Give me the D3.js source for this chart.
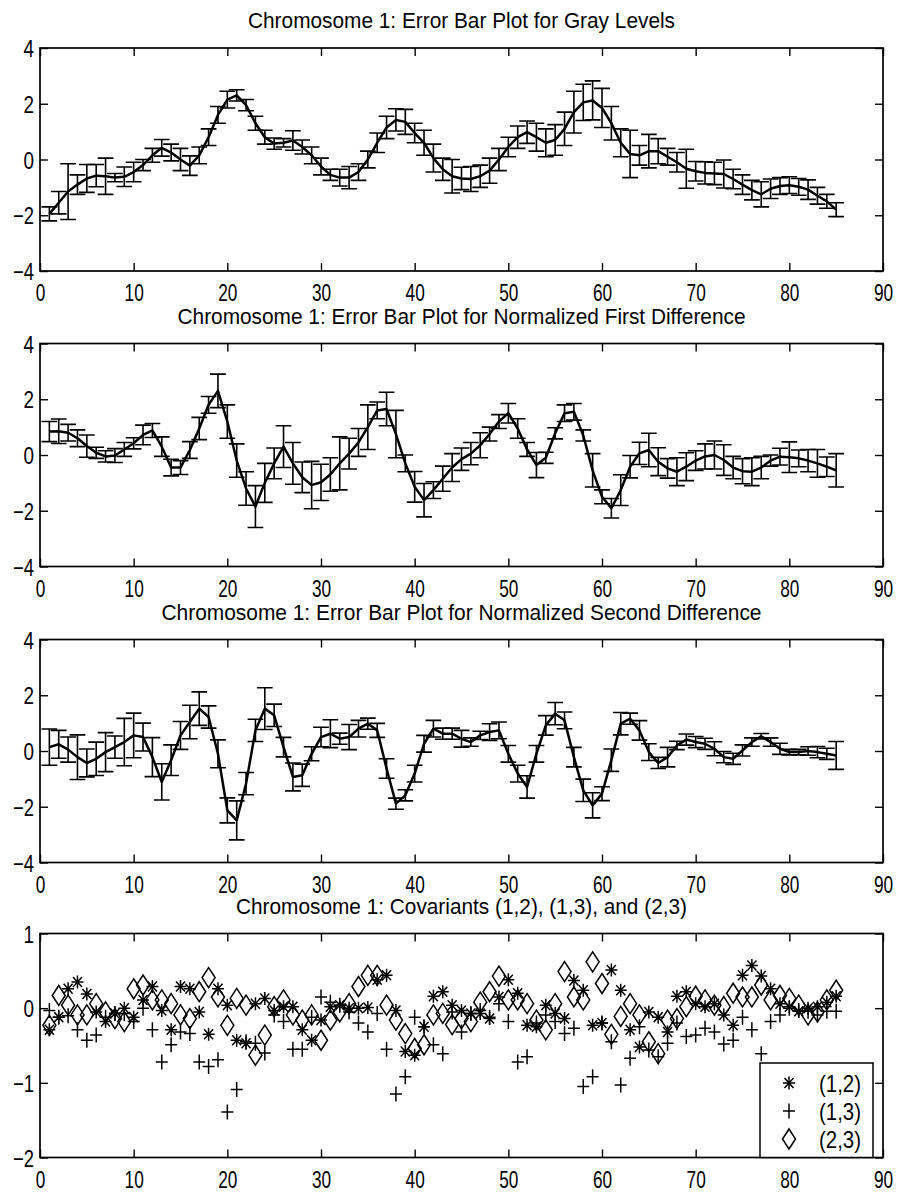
<!DOCTYPE html>
<html lang="en">
<head>
<meta charset="utf-8">
<title>Chromosome 1 error bar plots</title>
<script src="https://d3js.org/d3.v7.min.js"></script>
<style>
  body { margin: 0; background: #fff; }
  svg { display: block; }
  text { font-family: "Liberation Sans", Arial, Helvetica, sans-serif; fill: #000; }
</style>
</head>
<body>
<script>
// ---- data ----
const titles = [
  "Chromosome 1: Error Bar Plot for Gray Levels",
  "Chromosome 1: Error Bar Plot for Normalized First Difference",
  "Chromosome 1: Error Bar Plot for Normalized Second Difference",
  "Chromosome 1: Covariants (1,2), (1,3), and (2,3)"
];
const xTicks = [0, 10, 20, 30, 40, 50, 60, 70, 80, 90];
const yTicksErr = [-4, -2, 0, 2, 4];
const yTicksCov = [-2, -1, 0, 1];
const legendLabels = ["(1,2)", "(1,3)", "(2,3)"];

const grayMean = [-1.95,-1.55,-1.15,-0.9,-0.68,-0.58,-0.6,-0.65,-0.62,-0.45,
  -0.2,0.15,0.42,0.25,0.0,-0.22,0.15,0.8,1.6,2.15,
  2.3,1.95,1.3,0.8,0.57,0.6,0.68,0.45,0.15,-0.25,
  -0.55,-0.65,-0.65,-0.45,0.0,0.6,1.15,1.42,1.35,0.95,
  0.6,0.05,-0.35,-0.6,-0.68,-0.7,-0.6,-0.4,0.0,0.45,
  0.8,0.98,0.8,0.6,0.7,1.1,1.7,2.05,2.12,1.85,
  1.3,0.6,0.2,0.15,0.3,0.3,0.1,-0.1,-0.33,-0.42,
  -0.48,-0.5,-0.52,-0.7,-0.9,-1.1,-1.25,-1.05,-0.95,-0.92,
  -0.98,-1.08,-1.3,-1.5,-1.8];
const grayErr = [0.25,0.4,1.0,0.35,0.5,0.4,0.65,0.15,0.35,0.35,
  0.2,0.25,0.3,0.3,0.4,0.35,0.3,0.3,0.3,0.3,
  0.2,0.2,0.25,0.25,0.2,0.15,0.35,0.25,0.3,0.3,
  0.2,0.3,0.4,0.3,0.3,0.35,0.4,0.4,0.45,0.35,
  0.45,0.5,0.4,0.6,0.4,0.45,0.4,0.45,0.4,0.35,
  0.4,0.4,0.5,0.5,0.55,0.6,0.75,0.65,0.7,0.7,
  0.6,0.5,0.85,0.35,0.6,0.45,0.3,0.35,0.7,0.35,
  0.4,0.4,0.5,0.35,0.35,0.35,0.45,0.35,0.3,0.3,
  0.3,0.35,0.3,0.25,0.25];

const firstMean = [0.84,0.85,0.8,0.6,0.32,0.08,-0.05,-0.02,0.2,0.42,
  0.72,0.88,0.3,-0.45,-0.45,0.18,0.95,1.8,2.3,1.2,
  -0.2,-1.2,-1.85,-1.0,-0.3,0.3,-0.3,-0.8,-1.08,-0.98,
  -0.7,-0.3,0.05,0.45,1.0,1.6,1.65,0.75,-0.3,-1.14,
  -1.62,-1.26,-0.85,-0.45,-0.15,0.05,0.35,0.75,1.2,1.5,
  0.95,0.2,-0.36,-0.1,0.78,1.5,1.55,0.7,-0.55,-1.5,
  -1.91,-1.26,-0.42,0.06,0.18,-0.24,-0.48,-0.6,-0.42,-0.2,
  -0.05,0.0,-0.18,-0.45,-0.58,-0.6,-0.45,-0.2,-0.06,-0.08,
  -0.12,-0.2,-0.3,-0.42,-0.55];
const firstErr = [0.36,0.44,0.3,0.3,0.4,0.2,0.2,0.25,0.25,0.2,
  0.35,0.25,0.35,0.3,0.25,0.3,0.4,0.3,0.6,0.6,
  0.6,0.6,0.75,0.7,0.55,0.75,0.75,0.55,0.85,0.65,
  0.6,0.95,0.55,0.5,0.8,0.3,0.6,0.85,0.3,0.55,
  0.6,0.3,0.45,0.5,0.4,0.4,0.45,0.25,0.25,0.35,
  0.35,0.25,0.45,0.2,0.2,0.3,0.3,0.2,0.6,0.25,
  0.35,0.55,0.4,0.4,0.6,0.5,0.35,0.5,0.5,0.35,
  0.45,0.5,0.55,0.4,0.45,0.5,0.4,0.2,0.3,0.55,
  0.3,0.4,0.5,0.35,0.6];

const secondMean = [0.14,0.24,0.05,-0.22,-0.43,-0.28,-0.04,0.14,0.32,0.56,
  0.5,-0.22,-1.11,-0.33,0.56,1.04,1.52,1.22,-0.1,-2.13,
  -2.49,-1.17,0.74,1.52,1.28,0.14,-0.93,-0.87,-0.1,0.5,
  0.62,0.44,0.5,0.8,0.98,0.74,-0.63,-1.89,-1.59,-0.81,
  0.26,0.8,0.62,0.62,0.44,0.32,0.56,0.68,0.74,-0.1,
  -0.81,-1.29,-0.1,0.92,1.34,1.1,-0.22,-1.41,-1.95,-1.53,
  -0.33,0.98,1.16,0.74,-0.04,-0.43,-0.22,0.2,0.41,0.32,
  0.26,0.08,-0.22,-0.28,0.02,0.32,0.53,0.32,0.08,-0.04,
  -0.04,0,-0.04,-0.1,-0.16];
const secondErr = [0.65,0.5,0.45,0.8,0.5,0.6,0.7,0.4,0.85,0.8,
  0.5,0.7,0.65,0.55,0.5,0.6,0.6,0.4,0.5,0.45,
  0.7,0.4,0.4,0.75,0.4,0.35,0.5,0.4,0.25,0.35,
  0.5,0.2,0.45,0.3,0.2,0.25,0.35,0.2,0.2,0.3,
  0.3,0.3,0.2,0.2,0.3,0.15,0.15,0.3,0.3,0.3,
  0.3,0.4,0.3,0.35,0.4,0.3,0.35,0.4,0.45,0.25,
  0.4,0.4,0.2,0.35,0.3,0.2,0.35,0.15,0.2,0.2,
  0.2,0.25,0.2,0.2,0.2,0.15,0.1,0.15,0.2,0.1,
  0.1,0.15,0.2,0.2,0.5];

const cov12 = [-0.29,-0.12,0.26,0.35,0.19,-0.05,-0.18,-0.07,0,-0.12,
  0.11,0.29,-0.03,-0.29,0.29,0.26,-0.05,-0.35,0.26,0.04,
  -0.43,-0.47,0.06,0.13,-0.03,0.02,0.02,-0.29,-0.43,-0.16,
  0.02,0.04,0,0,0.01,0.38,0.44,-0.03,-0.58,-0.63,
  -0.25,0.16,0.22,0.04,-0.03,-0.07,-0.07,-0.14,0.15,0.38,
  0.2,-0.23,-0.25,0.04,-0.07,-0.14,0.37,0.24,-0.23,-0.2,
  0.51,0.24,-0.29,-0.52,-0.05,-0.12,-0.32,0.16,0.22,0.06,
  0.02,0.06,-0.09,-0.23,0.44,0.57,0.43,0.26,0.06,0.02,
  -0.04,0,0.02,0.08,0.16];
const cov13 = [-0.03,-0.12,-0.1,-0.29,-0.43,-0.36,-0.12,-0.07,-0.07,-0.18,
  0,-0.29,-0.72,-0.49,-0.32,-0.34,-0.72,-0.78,-0.69,-1.39,
  -1.09,-0.45,-0.47,-0.6,-0.09,-0.18,-0.55,-0.55,-0.12,0.15,
  0.08,0.04,-0.05,-0.2,-0.32,-0.07,-0.55,-1.15,-0.92,-0.12,
  -0.25,-0.49,-0.61,-0.05,-0.32,-0.07,-0.03,-0.12,0.06,-0.18,
  -0.72,-0.65,-0.2,-0.09,-0.18,-0.34,-0.27,-1.05,-0.92,-0.2,
  -0.45,-1.03,-0.67,-0.25,-0.56,-0.65,-0.47,-0.2,-0.38,-0.36,
  -0.27,-0.32,-0.48,-0.43,-0.12,-0.29,-0.61,-0.18,-0.09,0,
  -0.03,-0.04,-0.09,-0.04,-0.04];
const cov23 = [-0.23,0.17,0.04,-0.09,-0.09,0.06,-0.05,-0.14,-0.18,0.26,
  0.31,0.11,0.11,0.06,-0.09,-0.14,0.22,0.41,0.15,-0.23,
  0.13,0.04,-0.63,-0.36,0.02,0.11,-0.09,-0.16,-0.09,-0.43,
  -0.16,-0.05,0.06,0.29,0.44,0.44,0.04,-0.16,-0.34,-0.54,
  -0.49,-0.09,-0.07,-0.22,-0.14,-0.18,0.08,0.22,0.43,0.11,
  0.11,0.06,-0.16,-0.29,0.06,0.49,0.15,0.11,0.62,0.33,
  -0.35,-0.11,0.06,-0.09,-0.45,-0.61,-0.16,-0.14,0.02,0.16,
  0.11,0.04,0.02,0.2,0.15,0.15,0.31,0.11,0.17,0.13,
  0.04,-0.09,-0.05,0.11,0.24];

// ---- layout ----
const W = 897, H = 1193;
const left = 40, right = 883;
const tickLen = 8;
const tee = 0.84;             // half width of the error bar caps, in x units
const titleLens = [427, 568, 600, 451];

const svg = d3.select("body").append("svg")
  .attr("width", W).attr("height", H);

const x = d3.scaleLinear().domain([0, 90]).range([left, right]);

// squeeze text horizontally like the scanned original
function squeeze(sel, perChar) {
  sel.attr("textLength", function() { return this.textContent.length * perChar; })
     .attr("lengthAdjust", "spacingAndGlyphs");
}

function drawAxes(g, y, yTicks, top, h, idx) {
  const fmt = d => String(d).replace("-", "\u2212");

  const bottom = g.append("g").attr("transform", `translate(0,${top + h})`)
    .call(d3.axisBottom(x).tickValues(xTicks).tickSizeInner(-tickLen).tickSizeOuter(0).tickFormat(fmt));
  bottom.selectAll("text").attr("y", 30).attr("dy", 0)
    .style("font-size", "24px");
  squeeze(bottom.selectAll("text"), 9.6);

  g.append("g").attr("transform", `translate(0,${top})`)
    .call(d3.axisTop(x).tickValues(xTicks).tickSizeInner(-tickLen).tickSizeOuter(0).tickFormat(""));

  const leftAx = g.append("g").attr("transform", `translate(${left},0)`)
    .call(d3.axisLeft(y).tickValues(yTicks).tickSizeInner(-tickLen).tickSizeOuter(0).tickFormat(fmt));
  leftAx.selectAll("text").attr("x", -6).attr("dy", "0.36em")
    .style("font-size", "24px");
  squeeze(leftAx.selectAll("text"), 10.5);

  g.append("g").attr("transform", `translate(${right},0)`)
    .call(d3.axisRight(y).tickValues(yTicks).tickSizeInner(-tickLen).tickSizeOuter(0).tickFormat(""));

  g.selectAll(".domain").remove();
  g.selectAll(".tick line").attr("stroke", "#000").attr("stroke-width", 1.4);

  g.append("rect")
    .attr("x", left).attr("y", top)
    .attr("width", right - left).attr("height", h)
    .attr("fill", "none").attr("stroke", "#000").attr("stroke-width", 1.7);

  g.append("text")
    .attr("x", (left + right) / 2).attr("y", top - 20)
    .attr("text-anchor", "middle")
    .style("font-size", "22px")
    .attr("textLength", titleLens[idx])
    .attr("lengthAdjust", "spacingAndGlyphs")
    .text(titles[idx]);
}

function errorPanel(idx, top, h, mean, err) {
  const g = svg.append("g");
  const y = d3.scaleLinear().domain([-4, 4]).range([top + h, top]);
  const pts = mean.map((m, i) => ({ x: i + 1, m: m, e: err[i] }));

  const bars = g.append("g").attr("stroke", "#000").attr("stroke-width", 1.6).attr("fill", "none");
  bars.selectAll("path").data(pts).join("path")
    .attr("d", d => {
      const lo = y(d.m - d.e), hi = y(d.m + d.e);
      const xl = x(d.x - tee), xc = x(d.x), xr = x(d.x + tee);
      return `M${xc},${lo}V${hi}M${xl},${hi}H${xr}M${xl},${lo}H${xr}`;
    });

  g.append("path").datum(pts)
    .attr("fill", "none").attr("stroke", "#000").attr("stroke-width", 2.5)
    .attr("stroke-linejoin", "round")
    .attr("d", d3.line().x(d => x(d.x)).y(d => y(d.m)));

  drawAxes(g, y, yTicksErr, top, h, idx);
}

// marker shapes (slightly tall, like the original)
const markers = {
  star: (cx, cy) => `M${cx-6},${cy}H${cx+6}M${cx},${cy-6.5}V${cy+6.5}` +
        `M${cx-4.5},${cy-5}L${cx+4.5},${cy+5}M${cx-4.5},${cy+5}L${cx+4.5},${cy-5}`,
  plus: (cx, cy) => `M${cx-6},${cy}H${cx+6}M${cx},${cy-7.5}V${cy+7.5}`,
  diamond: (cx, cy) => `M${cx},${cy-10}L${cx+6.5},${cy}L${cx},${cy+10}L${cx-6.5},${cy}Z`
};

function covPanel(idx, top, h) {
  const g = svg.append("g");
  const y = d3.scaleLinear().domain([-2, 1]).range([top + h, top]);
  const series = [
    { vals: cov12, shape: "star" },
    { vals: cov13, shape: "plus" },
    { vals: cov23, shape: "diamond" }
  ];

  series.forEach(s => {
    g.append("g").attr("stroke", "#000").attr("stroke-width", 1.5).attr("fill", "none")
      .selectAll("path").data(s.vals).join("path")
      .attr("d", (v, i) => markers[s.shape](x(i + 1), y(v)));
  });

  drawAxes(g, y, yTicksCov, top, h, idx);

  // legend
  const lx = 760, ly = 1063, lw = 113, lh = top + h - ly;
  const lg = g.append("g");
  lg.append("rect").attr("x", lx).attr("y", ly).attr("width", lw).attr("height", lh)
    .attr("fill", "#fff").attr("stroke", "#000").attr("stroke-width", 1.5);
  series.forEach((s, i) => {
    const cy = ly + 20 + i * 28;
    lg.append("path").attr("d", markers[s.shape](lx + 29, cy))
      .attr("fill", "none").attr("stroke", "#000").attr("stroke-width", 1.5);
    lg.append("text").attr("x", lx + 59).attr("y", cy).attr("dy", "0.36em")
      .style("font-size", "24px")
      .attr("textLength", 42).attr("lengthAdjust", "spacingAndGlyphs")
      .text(legendLabels[i]);
  });
}

errorPanel(0, 48, 223, grayMean, grayErr);
errorPanel(1, 343.5, 223, firstMean, firstErr);
errorPanel(2, 639.5, 223, secondMean, secondErr);
covPanel(3, 933.5, 224);
</script>
</body>
</html>
